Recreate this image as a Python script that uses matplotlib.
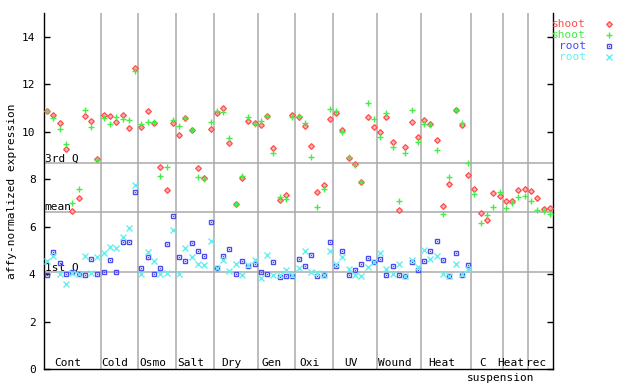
import matplotlib
matplotlib.use('Agg')
import matplotlib.pyplot as plt
from matplotlib.lines import Line2D
import numpy as np

plt.rcParams['font.family'] = 'DejaVu Sans Mono'
plt.rcParams['font.size'] = 8

# sample groups along the x axis
GROUPS = ['Cont', 'Cold', 'Osmo', 'Salt', 'Dry', 'Gen', 'Oxi', 'UV',
          'Wound', 'Heat', 'C', 'Heat', 'rec']
GROUP_SIZES = [9, 6, 6, 6, 7, 6, 6, 7, 7, 8, 5, 4, 4]

# shoot replicate 1 (red diamonds)
shoot_1 = [10.89, 10.71, 10.37, 9.27, 6.66, 7.21, 10.67, 10.47, 8.86,
           10.72, 10.68, 10.41, 10.72, 10.16, 12.69,
           10.19, 10.89, 10.37, 8.53, 7.54, 10.37,
           9.86, 10.58, 10.09, 8.47, 8.05, 10.12,
           10.79, 11.00, 9.53, 6.95, 8.05, 10.47, 10.37,
           10.27, 10.67, 9.33, 7.11, 7.34, 10.71,
           10.62, 10.23, 9.40, 7.46, 7.77, 10.54,
           10.79, 10.07, 8.89, 8.64, 7.88, 10.62, 10.20,
           9.99, 10.62, 9.57, 6.70, 9.36, 10.41, 9.78,
           10.51, 10.34, 9.65, 6.87, 7.80, 10.93, 10.29, 8.18,
           7.60, 6.57, 6.28, 7.42, 7.29,
           7.08, 7.08, 7.56, 7.58,
           7.50, 7.20, 6.75, 6.78]

# shoot replicate 2 (green plus)
shoot_2 = [10.89, 10.58, 10.12, 9.48, 6.99, 7.59, 10.93, 10.20, 8.79,
           10.58, 10.33, 10.62, 10.54, 10.51, 12.55,
           10.33, 10.41, 10.41, 8.15, 8.53, 10.51,
           10.24, 10.58, 10.05, 8.09, 8.02, 10.41,
           10.88, 10.84, 9.74, 6.95, 8.15, 10.62, 10.33,
           10.47, 10.67, 9.10, 7.25, 7.18, 10.62,
           10.67, 10.37, 8.94, 6.82, 7.60, 10.96,
           10.86, 9.99, 8.94, 8.58, 7.88, 11.21, 10.54,
           9.78, 10.79, 9.36, 7.08, 9.10, 10.92, 9.57,
           10.34, 10.29, 9.23, 6.53, 8.09, 10.93, 10.37, 8.68,
           7.37, 6.15, 6.49, 6.84, 7.46,
           6.78, 6.99, 7.25, 7.30,
           7.08, 6.70, 6.66, 6.53]

# root replicate 1 (blue squares) - no root samples after Heat
root_1 = [3.94, 4.93, 4.46, 4.00, 4.08, 4.00, 3.94, 4.64, 4.00,
          4.08, 4.60, 4.08, 5.35, 5.35, 7.46,
          4.25, 4.74, 4.00, 4.25, 5.26, 6.44,
          4.71, 4.54, 5.30, 4.97, 4.76, 6.19,
          4.24, 4.76, 5.05, 4.00, 4.54, 4.33, 4.42,
          4.08, 4.00, 4.50, 3.87, 3.90, 3.90,
          4.63, 4.33, 4.80, 3.90, 3.95, 5.35,
          4.35, 4.97, 3.95, 4.17, 4.42, 4.67, 4.50,
          4.63, 3.95, 4.33, 3.95, 3.91, 4.50, 4.17,
          4.54, 4.97, 5.39, 4.59, 3.91, 4.88, 3.97, 4.38]

# root replicate 2 (cyan crosses)
root_2 = [4.56, 4.78, 4.00, 3.58, 4.03, 4.00, 4.78, 4.03, 4.73,
          4.88, 5.14, 5.09, 5.56, 5.94, 7.77,
          4.00, 4.91, 4.56, 4.00, 4.04, 5.85,
          4.02, 5.09, 4.74, 4.41, 4.38, 5.39,
          4.24, 4.59, 4.12, 4.42, 3.95, 4.38, 4.59,
          3.83, 4.80, 3.95, 3.95, 4.17, 3.95,
          4.25, 4.97, 4.08, 4.04, 3.95, 4.96,
          4.42, 4.74, 4.21, 3.95, 3.91, 4.29, 4.50,
          4.88, 4.21, 4.00, 4.42, 3.91, 4.60, 4.29,
          5.01, 4.63, 4.76, 4.00, 3.91, 4.42, 4.00, 4.21]

# reference lines
Q1, MEAN, Q3 = 4.08, 6.62, 8.68

RED = '#ff4c4c'
GREEN = '#44ee44'
BLUE = '#4c4cf0'
CYAN = '#66eeee'
GRID = '#aaaaaa'

fig = plt.figure(figsize=(6.4, 3.84), dpi=100)
ax = fig.add_axes([44 / 640, 1 - 369 / 384, 509 / 640, 356 / 384])

n = len(shoot_1)
x = np.arange(n) + 0.5
xr = np.arange(len(root_1)) + 0.5

# group separators
bounds = np.cumsum(GROUP_SIZES)
for b in bounds[:-1]:
    ax.axvline(b, color=GRID, lw=1.1, zorder=1)
for y, lab in [(Q3, '3rd Q'), (MEAN, 'mean'), (Q1, '1st Q')]:
    ax.axhline(y, color=GRID, lw=1.1, zorder=1)
    ax.text(0.1, y + 0.06, lab, ha='left', va='baseline', zorder=2)

ax.plot(x, shoot_1, ls='none', marker='D', ms=2.9, mfc='#ffb0b0',
        mec=RED, mew=0.9, zorder=4)
ax.plot(x, shoot_2, ls='none', marker='+', ms=4.5, mew=1.0, color=GREEN,
        zorder=4)
ax.plot(xr, root_1, ls='none', marker='s', ms=3.4, mfc='none', mec=BLUE,
        mew=1.0, zorder=3)
ax.plot(xr, root_1, ls='none', marker='s', ms=0.8, mew=0, color=BLUE,
        zorder=3)
ax.plot(xr, root_2, ls='none', marker='x', ms=4, mew=1.0, color=CYAN,
        zorder=3)

# group labels
starts = np.concatenate([[0], bounds[:-1]])
for s, size, name in zip(starts, GROUP_SIZES, GROUPS):
    ax.text(s + size / 2 - 0.7, 0.27, name, ha='center', va='center')
c_idx = GROUPS.index('C')
ax.text(starts[c_idx] + GROUP_SIZES[c_idx] / 2 + 2.1, -0.4, 'suspension',
        ha='center', va='center', clip_on=False)

ax.set_xlim(0, n)
ax.set_ylim(0, 15)
ax.set_xticks([])
ax.set_yticks(np.arange(0, 15, 2))
ax.tick_params(axis='y', direction='in', length=4.5, width=1,
               left=True, right=True, pad=6)
ax.spines['top'].set_visible(False)
for side in ['left', 'right', 'bottom']:
    ax.spines[side].set_linewidth(1.0)
ax.set_ylabel('affy-normalized expression', fontsize=8)
ax.yaxis.set_label_coords(-0.053, 0.5)

# legend drawn on the figure, right of the axes
legend_rows = [('shoot', RED, dict(marker='D', ms=2.9, mfc='#ffb0b0', mec=RED, mew=0.9)),
               ('shoot', GREEN, dict(marker='+', ms=4.5, mew=1.0, color=GREEN)),
               ('root', BLUE, dict(marker='s', ms=3.4, mfc='none', mec=BLUE, mew=1.0)),
               ('root', CYAN, dict(marker='x', ms=4, mew=1.0, color=CYAN))]
for k, (lab, col, mk) in enumerate(legend_rows):
    yy = 1 - (24 + k * 11) / 384
    fig.text(586 / 640, yy, lab, ha='right', va='center', color=col)
    fig.add_artist(Line2D([609 / 640], [yy], ls='none',
                          transform=fig.transFigure, **mk))
fig.add_artist(Line2D([609 / 640], [1 - (24 + 2 * 11) / 384], ls='none',
                      marker='s', ms=0.8, mew=0, color=BLUE,
                      transform=fig.transFigure))

fig.savefig('out.png', dpi=100, facecolor='white')
